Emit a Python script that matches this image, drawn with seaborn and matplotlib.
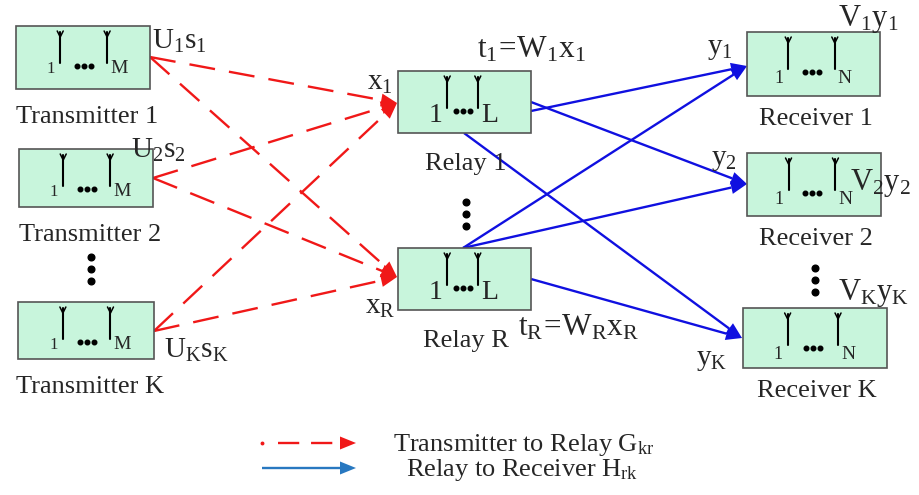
import numpy as np
import pandas as pd
import matplotlib
matplotlib.use('Agg')
import matplotlib.pyplot as plt
import seaborn as sns
from matplotlib.patches import Rectangle, Polygon

# node boxes in picture pixels: (left, top, width, height)
tx_names = ['Transmitter 1', 'Transmitter 2', 'Transmitter K']
tx_boxes = [(16, 26, 134, 63), (19, 149, 134, 58), (18, 302, 136, 57)]
tx_ports = [(150, 57), (153, 178), (154, 331)]
tx_labels = [r'$\mathrm{U_1s_1}$', r'$\mathrm{U_2s_2}$', r'$\mathrm{U_Ks_K}$']

relay_names = ['Relay 1', 'Relay R']
relay_boxes = [(398, 71, 133, 62), (398, 248, 133, 62)]
relay_in = [(397, 103), (397, 277)]
relay_in_labels = [r'$\mathrm{x_1}$', r'$\mathrm{x_R}$']
relay_out_labels = [r'$\mathrm{t_1\!=\!W_1x_1}$', r'$\mathrm{t_R\!=\!W_Rx_R}$']

rx_names = ['Receiver 1', 'Receiver 2', 'Receiver K']
rx_boxes = [(747, 32, 133, 64), (747, 153, 134, 63), (743, 308, 144, 60)]
rx_in = [(747, 66), (747, 184), (742, 338)]
rx_in_labels = [r'$\mathrm{y_1}$', r'$\mathrm{y_2}$', r'$\mathrm{y_K}$']
rx_out_labels = [r'$\mathrm{V_1y_1}$', r'$\mathrm{V_2y_2}$', r'$\mathrm{V_Ky_K}$']

# blue links: start point on relay -> receiver index
relay_links = [((531, 111), 0), ((531, 102), 1), ((464, 133), 2),
               ((463, 248), 0), ((463, 248), 1), ((531, 279), 2)]

legend_texts = [r'Transmitter to Relay $\mathrm{G_{kr}}$',
                r'Relay to Receiver $\mathrm{H_{rk}}$']

sns.set_theme(style='white')
plt.rcParams['font.family'] = ['Liberation Serif', 'DejaVu Serif']
plt.rcParams['mathtext.fontset'] = 'custom'
plt.rcParams['mathtext.rm'] = 'Liberation Serif'
plt.rcParams['mathtext.it'] = 'Liberation Serif:italic'

RED = '#F01818'
BLUE = '#1010E0'
FILL = '#C8F5DC'

fig = plt.figure(figsize=(9.19, 4.95), dpi=100)
ax = fig.add_axes([0, 0, 1, 1])
ax.set_xlim(0, 919)
ax.set_ylim(495, 0)
ax.axis('off')


def head(p0, p1, color, length=16, half=6.5):
    p0 = np.array(p0, float)
    p1 = np.array(p1, float)
    d = (p1 - p0) / np.linalg.norm(p1 - p0)
    n = np.array([-d[1], d[0]])
    base = p1 - d * length
    ax.add_patch(Polygon([p1, base + n * half, base - n * half],
                         closed=True, color=color, lw=0, zorder=4))
    return base


def link(p0, p1, color, ls):
    base = head(p0, p1, color)
    ax.plot([p0[0], base[0]], [p0[1], base[1]], color=color, lw=1.7,
            ls=ls, zorder=3, solid_capstyle='butt', dash_capstyle='butt')


def node(box, ant, sym, fs, fs1, base_off):
    l, t, w, h = box
    ax.add_patch(Rectangle((l, t), w, h, facecolor=FILL, edgecolor='#555555',
                           lw=1.2, zorder=5))
    a1, a2 = l + ant[0] * w, l + ant[1] * w
    for a in (a1, a2):
        ax.plot([a, a], [t + 6, t + 37], color='black', lw=1.5, zorder=6)
        ax.plot([a - 3, a, a + 3], [t + 5, t + 11, t + 5], color='black',
                lw=1.1, zorder=6)
    yb = t + base_off
    ax.text(a1 - 5, yb, '1', ha='right', va='baseline', fontsize=fs1, zorder=7)
    mid = (a1 + a2) / 2
    ax.plot([mid - 7, mid, mid + 7], [t + 40] * 3, 'o', color='black',
            ms=3.3, zorder=7)
    ax.text(a2 + 3, yb, sym, ha='left', va='baseline', fontsize=fs, zorder=7)


# red dashed links, every transmitter to every relay
for p in tx_ports:
    for q in relay_in:
        link(p, q, RED, (0, (11, 6)))

for p, k in relay_links:
    link(p, rx_in[k], BLUE, '-')

for box, name in zip(tx_boxes, tx_names):
    node(box, (0.33, 0.68), 'M', 14, 12, 47)
    ax.text(box[0] + box[2] / 2 + 4, box[1] + box[3] + 34, name,
            ha='center', va='baseline', fontsize=19)
for box, name in zip(relay_boxes, relay_names):
    node(box, (0.37, 0.60), 'L', 20, 20, 51)
    ax.text(box[0] + box[2] / 2 + 1, box[1] + box[3] + 37, name,
            ha='center', va='baseline', fontsize=19)
for box, name in zip(rx_boxes, rx_names):
    node(box, (0.31, 0.66), 'N', 14, 13, 51)
    ax.text(box[0] + box[2] / 2 + 2, box[1] + box[3] + 29, name,
            ha='center', va='baseline', fontsize=19)

# signal labels
tx_lab_pos = [(152, 49), (131, 158), (164, 358)]
for (x, y), s in zip(tx_lab_pos, tx_labels):
    ax.text(x, y, s, fontsize=21, va='baseline', zorder=8)
for (x, y), s in zip([(367, 90), (365, 314)], relay_in_labels):
    ax.text(x, y, s, fontsize=21, va='baseline', zorder=8)
for (x, y), s in zip([(477, 57), (518, 335)], relay_out_labels):
    ax.text(x, y, s, fontsize=22.5, va='baseline', zorder=8)
for (x, y), s in zip([(707, 54), (711, 165), (696, 365)], rx_in_labels):
    ax.text(x, y, s, fontsize=21, va='baseline', zorder=8)
for (x, y), s in zip([(838, 26), (850, 190), (838, 300)], rx_out_labels):
    ax.text(x, y, s, fontsize=22, va='baseline', zorder=8)

# vertical ellipses
for x, y0 in [(91, 257), (466, 202), (815, 268)]:
    ax.plot([x] * 3, [y0, y0 + 12, y0 + 24], 'o', color='black', ms=4.8)

# legend
ax.plot([262], [443], 'o', color=RED, ms=1.8)
link((278, 443), (356, 443), RED, (0, (9, 5)))
link((262, 468), (356, 468), '#2878C0', '-')
ax.text(393, 451, legend_texts[0], fontsize=19, va='baseline')
ax.text(406, 476, legend_texts[1], fontsize=19, va='baseline')

fig.savefig('out.png', dpi=100)
